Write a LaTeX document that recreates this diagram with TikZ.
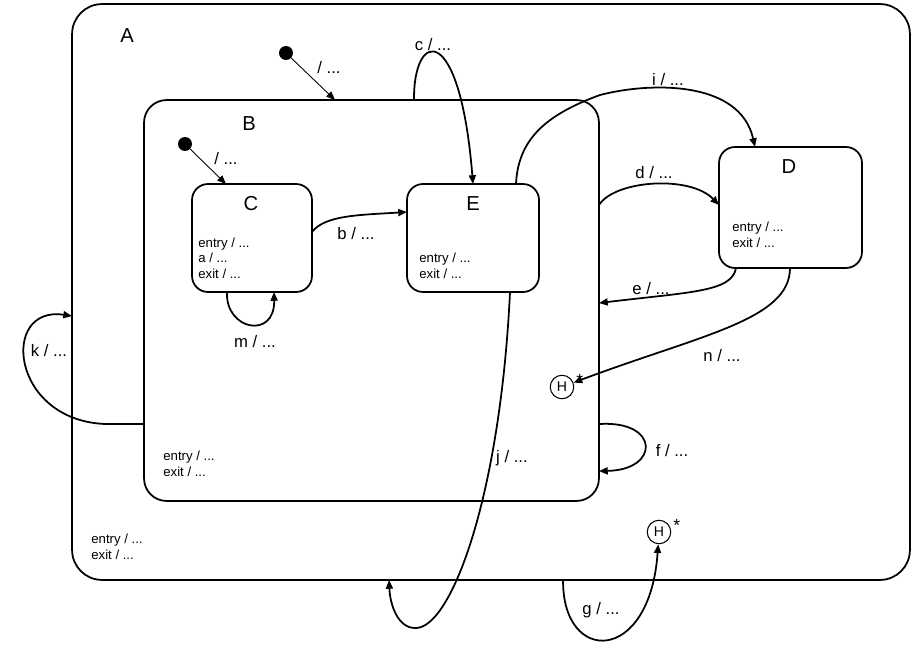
\documentclass[tikz,border=0pt]{standalone}
\usepackage{fontspec}
\setmainfont{Liberation Sans}
\usetikzlibrary{arrows.meta,calc}

\begin{document}
\begin{tikzpicture}[x=0.02cm,y=-0.02cm,
    statebox/.style={draw,line width=1pt,rounded corners=#1,outer sep=0pt},
    statebox/.default=0.32cm,
    initdot/.style={circle,fill,inner sep=0pt,minimum size=0.28cm},
    hist/.style={circle,draw,line width=0.6pt,inner sep=0pt,minimum size=0.47cm,
        font=\fontsize{8}{9}\selectfont,
        label={[inner sep=0pt,label distance=1pt,anchor=south west,font=\fontsize{10}{10}\selectfont]0:*}},
    trans/.style={line width=1pt,-{Triangle[length=5pt,width=4pt]}},
    initarrow/.style={line width=0.5pt,-{Triangle[length=5pt,width=4pt]}},
    lab/.style={font=\fontsize{9.5}{11}\selectfont,inner sep=0pt},
    title/.style={font=\fontsize{11.5}{13}\selectfont,inner sep=0pt},
    body/.style={font=\fontsize{7.5}{8.8}\selectfont,align=left,anchor=west,inner sep=0pt}]
    \useasboundingbox (0,0) rectangle (914,652);

    \node [statebox=0.6cm, minimum width=16.76cm, minimum height=11.52cm] (A) at (491,292) {};
    \node [statebox=0.45cm, minimum width=9.1cm, minimum height=8.02cm] (B) at (371.5,300.5) {};
    \node [statebox, minimum width=2.4cm, minimum height=2.16cm] (C) at (252,238) {};
    \node [statebox, minimum width=2.64cm, minimum height=2.16cm] (E) at (473,238) {};
    \node [statebox, minimum width=2.86cm, minimum height=2.42cm] (D) at (790.5,207.5) {};

    \node [title] (A-title) at (127,36) {A};
    \node [title] (B-title) at (249,124) {B};
    \node [title] (C-title) at (251,204) {C};
    \node [title] (E-title) at (473,204) {E};
    \node [title] (D-title) at (789,167) {D};

    \node [body] (A-body) at (91,547) {entry / ...\\exit / ...};
    \node [body] (B-body) at (163,464) {entry / ...\\exit / ...};
    \node [body] (C-body) at (198,258) {entry / ...\\a / ...\\exit / ...};
    \node [body] (E-body) at (419,266) {entry / ...\\exit / ...};
    \node [body] (D-body) at (732,235) {entry / ...\\exit / ...};

    \node [initdot] (initA) at (286,53) {};
    \node [initdot] (initB) at (185,144) {};
    \node [hist] (H1) at (562,387) {H};
    \node [hist] (H2) at (659,532) {H};

    \draw [initarrow] (initA) -- ($(B.north west)+(191,0)$);
    \draw [initarrow] (initB) -- ($(C.north west)+(34,0)$);
    \draw [trans] ($(B.north west)+(270,0)$) .. controls (413,30) and (460,20) .. (E.north);
    \draw [trans] ($(E.north west)+(109,0)$) .. controls (518,140) and (545,115) .. (600,95)
        .. controls (650,82) and (740,80) .. ($(D.north west)+(36,0)$);
    \draw [trans] ($(B.north east)+(0,105)$) .. controls (615,180) and (690,175) .. ($(D.north west)+(0,58)$);
    \draw [trans] ($(D.south west)+(17,0)$) .. controls (732,292) and (690,292) .. ($(B.north east)+(0,203)$);
    \draw [trans] ($(D.south west)+(71,0)$) .. controls (790,320) and (700,335) .. (H1);
    \draw [trans] ($(B.north east)+(0,324)$) .. controls (660,420) and (660,470) .. ($(B.north east)+(0,371)$);
    \draw [trans] ($(A.south west)+(491,0)$) .. controls (562,665) and (650,665) .. (H2);
    \draw [trans] ($(E.south west)+(103,0)$) .. controls (500,500) and (450,630) .. (415,628)
        .. controls (398,628) and (390,605) .. ($(A.south west)+(317,0)$);
    \draw [trans] ($(B.north west)+(0,324)$) -- (105,424) .. controls (10,420) and (0,305) .. ($(A.north west)+(0,312)$);
    \draw [trans] ($(C.north east)+(0,48)$) .. controls (325,215) and (360,215) .. ($(E.north west)+(0,28)$);
    \draw [trans] ($(C.south west)+(35,0)$) .. controls (225,330) and (275,340) .. ($(C.south west)+(82,0)$);

    \node [lab] (l-initA) at (329,68) {/ ...};
    \node [lab] (l-initB) at (226,159) {/ ...};
    \node [lab] (l-c) at (433,45) {c / ...};
    \node [lab] (l-i) at (668,80) {i / ...};
    \node [lab] (l-d) at (654,173) {d / ...};
    \node [lab] (l-e) at (651,289) {e / ...};
    \node [lab] (l-n) at (722,356) {n / ...};
    \node [lab] (l-b) at (356,234) {b / ...};
    \node [lab] (l-m) at (255,342) {m / ...};
    \node [lab] (l-k) at (49,351) {k / ...};
    \node [lab] (l-f) at (672,451) {f / ...};
    \node [lab] (l-j) at (512,458) {j / ...};
    \node [lab] (l-g) at (601,610) {g / ...};
\end{tikzpicture}
\end{document}
